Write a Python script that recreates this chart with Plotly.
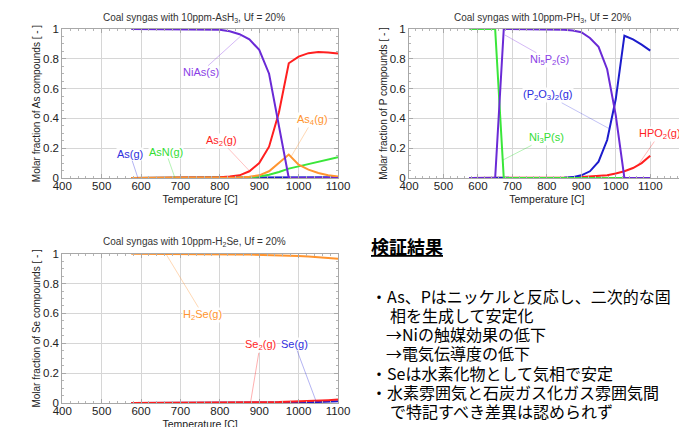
import plotly.graph_objects as go

W, H = 687, 427

# ---------------- data ----------------
temps = [575, 600, 625, 650, 675, 700, 725, 750, 775, 800, 825, 850,
         875, 900, 925, 950, 975, 1000, 1025, 1050, 1075, 1100]

# As system
as_g = [0, 0, 0, 0, 0, 0, 0, 0, 0, 0, 0, 0, 0, 0, 0.001, 0.001, 0.002, 0.002, 0.003, 0.004, 0.005, 0.006]
asn_g = [0, 0, 0, 0, 0, 0, 0, 0, 0, 0, 0.001, 0.002, 0.005, 0.01, 0.022, 0.04, 0.063, 0.078, 0.094, 0.109, 0.125, 0.14]
as2_g = [0, 0, 0, 0, 0, 0, 0, 0.001, 0.002, 0.005, 0.01, 0.018, 0.045, 0.10, 0.21, 0.44, 0.77, 0.815, 0.838, 0.845, 0.843, 0.835]
as4_g = [0, 0, 0, 0, 0, 0, 0, 0, 0, 0.001, 0.002, 0.004, 0.008, 0.018, 0.045, 0.10, 0.157, 0.09, 0.056, 0.034, 0.019, 0.01]
nias_s = [1, 1, 1, 1, 1, 1, 1, 1, 0.998, 0.995, 0.985, 0.965, 0.93, 0.86, 0.70, 0.36, 0.0, 0, 0, 0, 0, 0]

# P system
hpo2_g = [0, 0, 0, 0, 0, 0, 0, 0, 0, 0.001, 0.001, 0.002, 0.004, 0.006, 0.009, 0.013, 0.018, 0.03, 0.045, 0.067, 0.10, 0.15]
p2o3_2_g = [0, 0, 0, 0, 0, 0, 0, 0, 0, 0, 0.001, 0.002, 0.006, 0.018, 0.045, 0.11, 0.255, 0.53, 0.955, 0.93, 0.895, 0.855]
ni3p_s = [1, 1, 1, 1, 0, 0, 0, 0, 0, 0, 0, 0, 0, 0, 0, 0, 0, 0, 0, 0, 0, 0]
ni5p2_s = [0, 0, 0, 0, 1, 1, 1, 1, 1, 1, 0.998, 0.995, 0.99, 0.978, 0.94, 0.88, 0.73, 0.42, 0, 0, 0, 0]

# Se system
h2se_g = [1.0, 1.0, 1.0, 1.0, 1.0, 0.999, 0.999, 0.998, 0.998, 0.997, 0.996, 0.995,
          0.994, 0.993, 0.991, 0.989, 0.987, 0.985, 0.982, 0.978, 0.973, 0.967]
se_g = [0, 0, 0, 0, 0, 0, 0, 0, 0, 0, 0, 0, 0, 0.001, 0.001, 0.002, 0.003, 0.004, 0.005, 0.007, 0.009, 0.012]
se2_g = [0, 0, 0, 0, 0, 0, 0, 0, 0.001, 0.001, 0.002, 0.002, 0.003, 0.004, 0.005, 0.006, 0.008, 0.01, 0.012, 0.015, 0.019, 0.023]

y_ticks = [0, 0.2, 0.4, 0.6, 0.8, 1]
y_ticktext = ["0", "0.2", "0.4", "0.6", "0.8", "1"]

titles = ["Coal syngas with 10ppm-AsH<sub>3</sub>, Uf = 20%",
          "Coal syngas with 10ppm-PH<sub>3</sub>, Uf = 20%",
          "Coal syngas with 10ppm-H<sub>2</sub>Se, Uf = 20%"]
y_titles = ["Molar fraction of As compounds [ - ]",
            "Molar fraction of P compounds [ - ]",
            "Molar fraction of Se compounds [ - ]"]
x_title = "Temperature [C]"

notes_heading = "検証結果"
notes_lines = ["・As、Pはニッケルと反応し、二次的な固",
               "相を生成して安定化",
               "→Niの触媒効果の低下",
               "→電気伝導度の低下",
               "・Seは水素化物として気相で安定",
               "・水素雰囲気と石炭ガス化ガス雰囲気間",
               "で特記すべき差異は認められず"]

# ---------------- style ----------------
PURPLE = "#6a2ad6"
RED = "#ff1f1f"
ORANGE = "#ff9530"
GREEN = "#3ae63a"
BLUE = "#1c1ccc"
FONT = "Liberation Sans, Arial, sans-serif"
JFONT = "Noto Sans CJK JP"

fig = go.Figure()


def add(x, y, color, xa, ya):
    fig.add_trace(go.Scatter(x=x, y=y, mode="lines", line=dict(color=color, width=2),
                             xaxis=xa, yaxis=ya, cliponaxis=False, showlegend=False,
                             hoverinfo="skip"))


add(temps, as_g, BLUE, "x", "y")
add(temps, asn_g, GREEN, "x", "y")
add(temps, as2_g, RED, "x", "y")
add(temps, as4_g, ORANGE, "x", "y")
add(temps, nias_s, PURPLE, "x", "y")

add(temps, hpo2_g, RED, "x2", "y2")
add(temps, p2o3_2_g, BLUE, "x2", "y2")
add(temps, ni3p_s, GREEN, "x2", "y2")
add(temps, ni5p2_s, PURPLE, "x2", "y2")

add(temps, h2se_g, ORANGE, "x3", "y3")
add(temps, se_g, BLUE, "x3", "y3")
add(temps, se2_g, RED, "x3", "y3")


def px_x(p):
    return p / W


def px_y(p):
    return 1 - p / H


dom_x_left = [px_x(54.3), px_x(330)]
dom_x_right = [px_x(401), px_x(676.7)]
dom_y_top = [px_y(170), px_y(21)]
dom_y_bot = [px_y(395), px_y(245.7)]

axis_common = dict(showgrid=True, gridcolor="#d6d6d6", gridwidth=1, showline=True,
                   linecolor="#a8a8a8", linewidth=1, mirror="allticks", ticks="inside",
                   ticklen=4, tickcolor="#a8a8a8", zeroline=False, automargin=False,
                   tickfont=dict(family=FONT, size=11.5, color="#222"))


def xaxis(dom, rng, anchor):
    return dict(axis_common, domain=dom, range=rng, anchor=anchor, dtick=100, tick0=400,
                ticklabelstandoff=-3,
                minor=dict(ticks="inside", ticklen=2, tickcolor="#b5b5b5", dtick=20, tick0=400, showgrid=False),
                title=dict(text=x_title, font=dict(family=FONT, size=10.5, color="#222"), standoff=4))


def yaxis(dom, anchor, title):
    return dict(axis_common, domain=dom, range=[0, 1], anchor=anchor, tickvals=y_ticks, ticktext=y_ticktext,
                minor=dict(ticks="inside", ticklen=2, tickcolor="#b5b5b5", dtick=0.05, tick0=0, showgrid=False),
                title=dict(text=title, font=dict(family=FONT, size=10, color="#222"), standoff=0))


fig.update_layout(
    width=W, height=H, margin=dict(l=0, r=0, t=0, b=0, autoexpand=False),
    paper_bgcolor="white", plot_bgcolor="white",
    xaxis=xaxis(dom_x_left, [400, 1100], "y"),
    yaxis=yaxis(dom_y_top, "x", y_titles[0]),
    xaxis2=xaxis(dom_x_right, [400, 1200], "y2"),
    yaxis2=yaxis(dom_y_top, "x2", y_titles[1]),
    xaxis3=xaxis(dom_x_left, [400, 1100], "y3"),
    yaxis3=yaxis(dom_y_bot, "x3", y_titles[2]),
)

ann = []
# subplot titles
for t, cx, cy in [(titles[0], 186, 9.5), (titles[1], 534, 10), (titles[2], 186, 234)]:
    ann.append(dict(text=t, x=px_x(cx), y=px_y(cy), xref="paper", yref="paper", showarrow=False,
                    xanchor="center", yanchor="middle", font=dict(family=FONT, size=10, color="#333")))


def label(text, color, lcolor, xa, ya, px_, py_, lx, ly):
    ann.append(dict(text=text, x=px_, y=py_, ax=lx, ay=ly, xref=xa, yref=ya, axref=xa, ayref=ya,
                    showarrow=True, arrowhead=0, arrowwidth=0.8, arrowcolor=lcolor,
                    bgcolor="rgba(255,255,255,0.9)", borderpad=0,
                    font=dict(family=FONT, size=11, color=color)))


# As labels
label("NiAs(s)", "#8a3ee6", "rgba(138,62,230,0.45)", "x", "y", 854, 0.955, 752, 0.71)
label("As<sub>2</sub>(g)", RED, "rgba(255,40,40,0.35)", "x", "y", 878, 0.04, 803, 0.25)
label("As<sub>4</sub>(g)", ORANGE, "rgba(255,150,50,0.45)", "x", "y", 982, 0.148, 1036, 0.39)
label("As(g)", "#3030dd", "rgba(48,48,221,0.45)", "x", "y", 592, 0.0, 572, 0.16)
label("AsN(g)", "#33dd33", "rgba(51,221,51,0.45)", "x", "y", 686, 0.0, 663, 0.175)

# P labels
label("Ni<sub>5</sub>P<sub>2</sub>(s)", "#8a3ee6", "rgba(138,62,230,0.45)", "x2", "y2", 678, 0.96, 808, 0.79)
label("(P<sub>2</sub>O<sub>3</sub>)<sub>2</sub>(g)", "#2a2ae0", "rgba(42,42,224,0.35)", "x2", "y2", 982, 0.33, 803, 0.555)
label("Ni<sub>3</sub>P(s)", "#33dd33", "rgba(51,221,51,0.45)", "x2", "y2", 672, 0.12, 798, 0.27)
label("HPO<sub>2</sub>(g)", RED, "rgba(255,40,40,0.4)", "x2", "y2", 1064, 0.085, 1127, 0.295)

# Se labels
label("H<sub>2</sub>Se(g)", ORANGE, "rgba(255,150,50,0.45)", "x3", "y3", 664, 0.995, 757, 0.59)
label("Se<sub>2</sub>(g)", RED, "rgba(255,40,40,0.45)", "x3", "y3", 878, 0.004, 902, 0.386)
label("Se(g)", "#3030dd", "rgba(48,48,221,0.45)", "x3", "y3", 1045, 0.007, 990, 0.395)

# Japanese notes
ann.append(dict(text="<b><u>" + notes_heading + "</u></b>", x=px_x(361), y=px_y(238),
                xref="paper", yref="paper", showarrow=False, xanchor="left", yanchor="middle",
                font=dict(family=JFONT, size=18, color="black")))
line_x = [361, 380, 376, 376, 361, 361, 380]
line_y = [288, 307, 326, 345, 365, 384, 403]
for t, lx, ly in zip(notes_lines, line_x, line_y):
    ann.append(dict(text=t, x=px_x(lx), y=px_y(ly), xref="paper", yref="paper", showarrow=False,
                    xanchor="left", yanchor="middle", font=dict(family=JFONT, size=16, color="black")))

fig.update_layout(annotations=ann)
fig.write_html("out.html")
